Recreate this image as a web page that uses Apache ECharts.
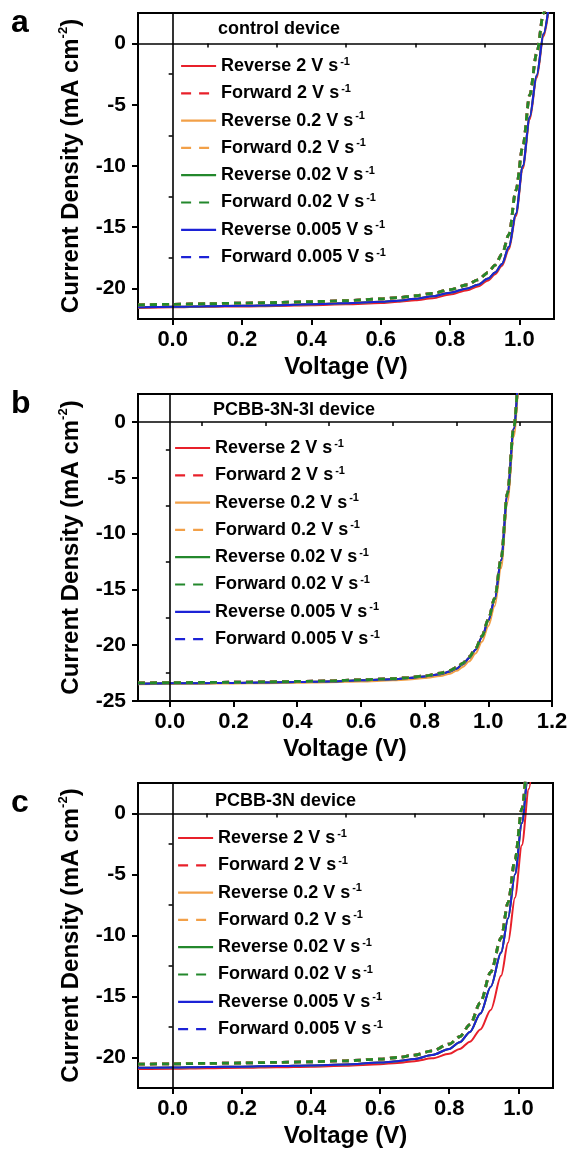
<!DOCTYPE html>
<html>
<head>
<meta charset="utf-8">
<script src="https://cdn.jsdelivr.net/npm/echarts@6/dist/echarts.min.js"></script>
<style>
html,body{margin:0;padding:0;background:#fff;}
#chart{width:574px;height:1152px;}
</style>
</head>
<body>
<div id="chart"></div>
<script>
// ---------- data ----------
const seriesNames = ['Reverse 2 V s', 'Forward 2 V s', 'Reverse 0.2 V s', 'Forward 0.2 V s',
                     'Reverse 0.02 V s', 'Forward 0.02 V s', 'Reverse 0.005 V s', 'Forward 0.005 V s'];
const panelLetters = ['a', 'b', 'c'];
const deviceLabels = ['control device', 'PCBB-3N-3I device', 'PCBB-3N device'];

// panel a : control device
const aV      = [-0.1, 0, 0.1, 0.2, 0.3, 0.4, 0.5, 0.6, 0.65, 0.7, 0.75, 0.8, 0.85, 0.88, 0.91, 0.93, 0.95, 0.97, 0.99, 1.01, 1.03, 1.05, 1.07, 1.09];
const aRevRed = [-21.6, -21.55, -21.5, -21.47, -21.43, -21.37, -21.3, -21.2, -21.1, -20.97, -20.8, -20.5, -20.15, -19.85, -19.35, -18.85, -18.15, -16.8, -14.1, -10.2, -6.2, -2.8, 0.6, 4.0];
const aRev    = [-21.55, -21.5, -21.45, -21.42, -21.37, -21.3, -21.22, -21.1, -21.0, -20.85, -20.65, -20.35, -20.0, -19.7, -19.2, -18.7, -18.0, -16.6, -13.9, -10.0, -6.0, -2.6, 0.8, 4.2];
const aFwd    = [-21.35, -21.3, -21.25, -21.2, -21.15, -21.08, -21.0, -20.85, -20.75, -20.6, -20.4, -20.1, -19.7, -19.3, -18.7, -18.1, -17.2, -15.6, -12.0, -8.4, -4.2, -0.8, 2.5, 5.5];

// panel b : PCBB-3N-3I device
const bV       = [-0.1, 0, 0.1, 0.2, 0.3, 0.4, 0.5, 0.6, 0.7, 0.75, 0.8, 0.85, 0.88, 0.9, 0.92, 0.94, 0.96, 0.98, 1.0, 1.02, 1.04, 1.06, 1.08, 1.1, 1.12];
const bRev     = [-23.45, -23.42, -23.4, -23.38, -23.35, -23.3, -23.25, -23.15, -23.05, -22.95, -22.8, -22.6, -22.35, -22.1, -21.7, -21.15, -20.4, -19.3, -17.8, -15.9, -12.4, -6.5, -0.6, 5.3, 11.0];
const bRevOrg  = [-23.5, -23.47, -23.45, -23.43, -23.4, -23.37, -23.32, -23.25, -23.15, -23.07, -22.95, -22.75, -22.55, -22.3, -21.95, -21.45, -20.75, -19.7, -18.3, -16.5, -13.1, -7.2, -1.3, 4.6, 10.3];
const bFwd     = [-23.38, -23.36, -23.34, -23.32, -23.29, -23.25, -23.2, -23.1, -23.0, -22.9, -22.75, -22.5, -22.25, -22.0, -21.6, -21.05, -20.3, -19.2, -17.7, -15.8, -12.3, -6.4, -0.5, 5.4, 11.1];

// panel c : PCBB-3N device
const cV      = [-0.1, 0, 0.1, 0.2, 0.3, 0.4, 0.5, 0.6, 0.65, 0.7, 0.75, 0.8, 0.83, 0.86, 0.89, 0.92, 0.95, 0.97, 0.99, 1.01, 1.03, 1.05];
const cRevRed = [-20.95, -20.92, -20.88, -20.85, -20.8, -20.75, -20.68, -20.55, -20.45, -20.3, -20.07, -19.7, -19.3, -18.7, -17.7, -16.1, -13.3, -10.6, -6.9, -2.6, 2.0, 7.0];
const cRev    = [-20.85, -20.82, -20.78, -20.75, -20.7, -20.65, -20.57, -20.42, -20.3, -20.12, -19.8, -19.3, -18.75, -17.9, -16.4, -14.2, -11.4, -8.6, -5.0, -0.8, 3.8, 8.5];
const cFwd    = [-20.55, -20.52, -20.48, -20.45, -20.4, -20.35, -20.27, -20.13, -20.0, -19.8, -19.45, -18.9, -18.3, -17.3, -15.5, -13.0, -10.2, -7.3, -3.8, 0.4, 5.0, 9.6];

// axis ranges and tick values
const xRanges = [[-0.1, 1.1], [-0.1, 1.2], [-0.1, 1.1]];
const yRanges = [[-22.5, 2.5], [-25, 2.5], [-22.5, 2.5]];
const xMajor = [[0, 0.2, 0.4, 0.6, 0.8, 1.0], [0, 0.2, 0.4, 0.6, 0.8, 1.0, 1.2], [0, 0.2, 0.4, 0.6, 0.8, 1.0]];
const xMinor = [[0.1, 0.3, 0.5, 0.7, 0.9], [0.1, 0.3, 0.5, 0.7, 0.9, 1.1], [0.1, 0.3, 0.5, 0.7, 0.9]];
const yMajor = [[-20, -15, -10, -5, 0], [-25, -20, -15, -10, -5, 0], [-20, -15, -10, -5, 0]];
const yMinor = [[-17.5, -12.5, -7.5, -2.5], [-22.5, -17.5, -12.5, -7.5, -2.5], [-17.5, -12.5, -7.5, -2.5]];

// per panel: [voltage grid, curves in seriesNames order]
const panelCurves = [
  [aV, [aRevRed, aFwd, aRev, aFwd, aRev, aFwd, aRev, aFwd]],
  [bV, [bRev, bFwd, bRevOrg, bFwd, bRev, bFwd, bRev, bFwd]],
  [cV, [cRevRed, cFwd, cRev, cFwd, cRev, cFwd, cRev, cFwd]]
];

// ---------- styling / layout ----------
const FONT = '"Liberation Sans", Arial, sans-serif';
const colors = ['#e8202a', '#e8202a', '#f2a048', '#f2a048', '#23882c', '#23882c', '#1c22d6', '#1c22d6'];
const seriesZ = [3, 4, 3, 5, 3, 6, 4, 2];
const gridPos = [
  {left: 138, right: 20, top: 13, height: 306},
  {left: 138, right: 22, top: 394, height: 307},
  {left: 138, right: 21, top: 783, height: 305}
];
const legendPos = [{left: 180, top: 56}, {left: 174, top: 438}, {left: 177, top: 828}];
const deviceLabelPos = [{left: 218, top: 20}, {left: 213, top: 401}, {left: 215, top: 792}];
const letterPos = [{left: 11, top: 7}, {left: 11, top: 388}, {left: 11, top: 787}];

const chart = echarts.init(document.getElementById('chart'), null, {renderer: 'canvas'});

const grids = [], xAxes = [], yAxes = [], series = [], legends = [], titles = [];

for (let p = 0; p < 3; p++) {
  grids.push(Object.assign({show: true, borderColor: '#000', borderWidth: 2, backgroundColor: 'transparent',
                            containLabel: false, outerBoundsMode: 'none'}, gridPos[p]));
  const axLine = {show: true, onZero: false, lineStyle: {color: '#000', width: 2}};
  // main x axis
  xAxes.push({
    type: 'value', gridIndex: p, position: 'bottom', min: xRanges[p][0], max: xRanges[p][1],
    axisLine: axLine,
    axisTick: {show: true, inside: false, length: 6, lineStyle: {color: '#000', width: 2}, customValues: xMajor[p]},
    axisLabel: {show: true, customValues: xMajor[p], formatter: v => v.toFixed(1), color: '#000',
                fontFamily: FONT, fontWeight: 'bold', fontSize: 22, margin: 10},
    splitLine: {show: false},
    name: 'Voltage (V)', nameLocation: 'middle', nameGap: 36, nameMoveOverlap: false,
    nameTextStyle: {color: '#000', fontFamily: FONT, fontWeight: 'bold', fontSize: 24}
  });
  // minor x ticks
  xAxes.push({
    type: 'value', gridIndex: p, position: 'bottom', min: xRanges[p][0], max: xRanges[p][1],
    axisLine: {show: false},
    axisTick: {show: true, inside: false, length: 4, lineStyle: {color: '#000', width: 1.5}, customValues: xMinor[p]},
    axisLabel: {show: false}, splitLine: {show: false}
  });
  // main y axis
  yAxes.push({
    type: 'value', gridIndex: p, position: 'left', min: yRanges[p][0], max: yRanges[p][1],
    axisLine: axLine,
    axisTick: {show: true, inside: false, length: 6, lineStyle: {color: '#000', width: 2}, customValues: yMajor[p]},
    axisLabel: {show: true, customValues: yMajor[p], color: '#000', fontFamily: FONT, fontWeight: 'bold',
                fontSize: 21, margin: 12},
    splitLine: {show: false},
    name: '{t|Current Density (mA cm}{s|-2}{t|)}', nameLocation: 'middle', nameGap: 53, nameRotate: 90,
    nameMoveOverlap: false,
    nameTextStyle: {
      color: '#000',
      rich: {
        t: {fontFamily: FONT, fontWeight: 'bold', fontSize: 24, color: '#000', lineHeight: 28},
        s: {fontFamily: FONT, fontWeight: 'bold', fontSize: 13, color: '#000', lineHeight: 13, verticalAlign: 'top'}
      }
    }
  });
  // minor y ticks
  yAxes.push({
    type: 'value', gridIndex: p, position: 'left', min: yRanges[p][0], max: yRanges[p][1],
    axisLine: {show: false},
    axisTick: {show: true, inside: false, length: 4, lineStyle: {color: '#000', width: 1.5}, customValues: yMinor[p]},
    axisLabel: {show: false}, splitLine: {show: false}
  });

  const V = panelCurves[p][0];
  const curves = panelCurves[p][1];
  for (let k = 0; k < 8; k++) {
    const dashed = k % 2 === 1;
    const J = curves[k];
    const s = {
      type: 'line', name: seriesNames[k], xAxisIndex: 2 * p, yAxisIndex: 2 * p,
      data: V.map((v, i) => [v, J[i]]),
      symbol: 'none', smooth: 0.3, smoothMonotone: 'x', clip: true, silent: true,
      lineStyle: {color: colors[k], width: dashed ? 2.8 : 2, type: dashed ? [7, 5] : 'solid'},
      itemStyle: {color: colors[k]},
      z: seriesZ[k]
    };
    if (k === 0) {
      s.markLine = {
        silent: true, symbol: ['none', 'none'], label: {show: false}, animation: false,
        lineStyle: {color: '#000', width: 1.6, type: 'solid'},
        data: [{yAxis: 0}, {xAxis: 0}]
      };
    }
    series.push(s);
  }

  legends.push({
    orient: 'vertical', left: legendPos[p].left, top: legendPos[p].top, padding: 0,
    itemWidth: 35, itemHeight: 12, itemGap: 8.3, selectedMode: false,
    itemStyle: {color: 'transparent', borderColor: 'transparent', borderWidth: 0, opacity: 0},
    data: seriesNames.map((n, k) => (k % 2 === 1
      ? {name: n, lineStyle: {type: [10, 8], width: 2.2}}
      : {name: n, lineStyle: {width: 2.2}})),
    formatter: n => '{t|' + n + '}{s|-1}',
    textStyle: {
      color: '#000',
      rich: {
        t: {fontFamily: FONT, fontWeight: 'bold', fontSize: 18, color: '#000', lineHeight: 20},
        s: {fontFamily: FONT, fontWeight: 'bold', fontSize: 11, color: '#000', lineHeight: 11, verticalAlign: 'top', padding: [0, 0, 0, 2]}
      }
    }
  });

  titles.push({text: panelLetters[p], left: letterPos[p].left, top: letterPos[p].top, padding: 0,
               textStyle: {fontFamily: FONT, fontWeight: 'bold', fontSize: 32, color: '#000'}});
  titles.push({text: deviceLabels[p], left: deviceLabelPos[p].left, top: deviceLabelPos[p].top, padding: 0,
               textStyle: {fontFamily: FONT, fontWeight: 'bold', fontSize: 18, color: '#000'}});
}

chart.setOption({
  animation: false,
  backgroundColor: '#fff',
  title: titles,
  grid: grids,
  xAxis: xAxes,
  yAxis: yAxes,
  legend: legends,
  series: series
});
</script>
</body>
</html>
